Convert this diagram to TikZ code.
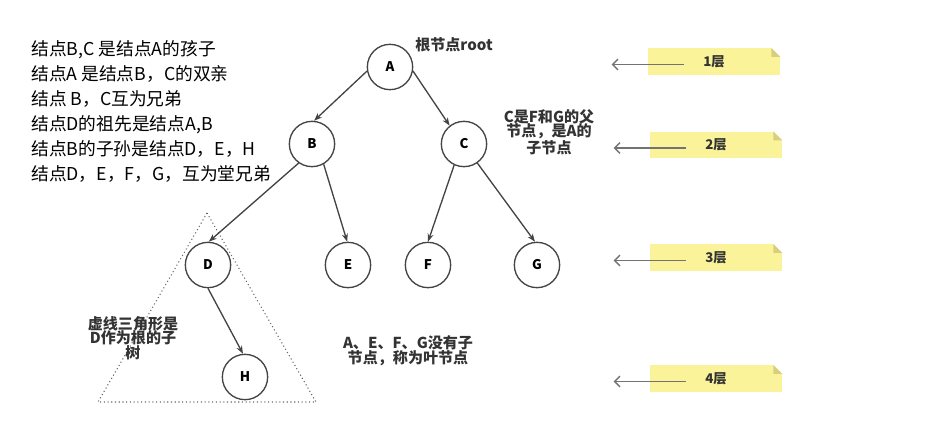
\documentclass[tikz,border=0pt]{standalone}
\usepackage{fontspec}
\setmainfont{Noto Sans CJK SC}
\usetikzlibrary{arrows.meta}

\definecolor{noteyellow}{HTML}{FAF39A}
\definecolor{notefold}{HTML}{D6CF7E}
\definecolor{inkgray}{HTML}{444444}

\tikzset{
    treenode/.style={circle, draw=inkgray, line width=1pt, fill=white,
        minimum size=34pt, inner sep=0pt, font=\fontsize{10}{12}\selectfont\bfseries},
    edge/.style={draw=inkgray, line width=1pt, -{Stealth[length=6pt,width=4.5pt]}},
    note/.style={fill=noteyellow, minimum width=99pt, minimum height=20pt, inner sep=0pt,
        font=\fontsize{10}{12}\selectfont\bfseries, text=black!80},
    layerarrow/.style={draw=black!55, line width=1pt, -{Straight Barb[length=4pt,width=8pt]}},
    remark/.style={align=center, text=black!80, inner sep=0pt,
        font=\fontsize{11.3}{11}\selectfont\bfseries}
}

\begin{document}
\begin{tikzpicture}[x=0.75pt, y=-0.75pt]
    \useasboundingbox (0,0) rectangle (942,432);
    % explanations on the left
    \node[anchor=north west, align=left, inner sep=0pt, font=\fontsize{13.3}{18.75}\selectfont]
        (facts) at (31,40) {结点B,C 是结点A的孩子\\结点A 是结点B，C的双亲\\结点 B，C互为兄弟\\
        结点D的祖先是结点A,B\\结点B的子孙是结点D，E，H\\结点D，E，F，G，互为堂兄弟};
    % dotted subtree triangle
    \draw[black!60, dotted, line width=0.8pt] (207,213) -- (316,402) -- (98,402) -- cycle;
    % the tree
    \node[treenode] (A) at (390,67) {A};
    \node[treenode] (B) at (312,144) {B};
    \node[treenode] (C) at (464,144) {C};
    \node[treenode] (D) at (208,265) {D};
    \node[treenode] (E) at (348,265) {E};
    \node[treenode] (F) at (428,265) {F};
    \node[treenode] (G) at (537,265) {G};
    \node[treenode] (H) at (245,377) {H};
    \draw[edge] (A.190) -- (B.85);
    \draw[edge] (A.-10) -- (C.128);
    \draw[edge] (B.235) -- (D.88);
    \draw[edge] (B.-60) -- (E.92);
    \draw[edge] (C.245) -- (F.90);
    \draw[edge] (C.-55) -- (G.95);
    \draw[edge] (D.-90) -- (H.95);
    % remarks
    \node[remark] (root) at (454,45) {根节点root};
    \node[remark] (cnote) at (549,132) {C是F和G的父\\节点，是A的\\子节点};
    \node[remark] (dnote) at (133,338) {虚线三角形是\\D作为根的子\\树};
    \node[remark] (leaf) at (408,351) {A、E、F、G没有子\\节点，称为叶节点};
    % layer notes
    \foreach \n/\x/\y/\t in {1/714/61.5/1层, 2/716/145/2层, 3/716/257.5/3层, 4/716/378.5/4层} {
        \node[note] (n\n) at (\x,\y) {\t};
        \fill[white] (n\n.north east) ++(-9,0) -- ++(9,0) -- ++(0,9) -- cycle;
        \fill[notefold] (n\n.north east) ++(-9,0) -- ++(9,9) -- ++(-9,0) -- cycle;
        \draw[layerarrow] ([shift={(36,3)}]n\n.west) -- ++(-72,0);
    }
\end{tikzpicture}
\end{document}
